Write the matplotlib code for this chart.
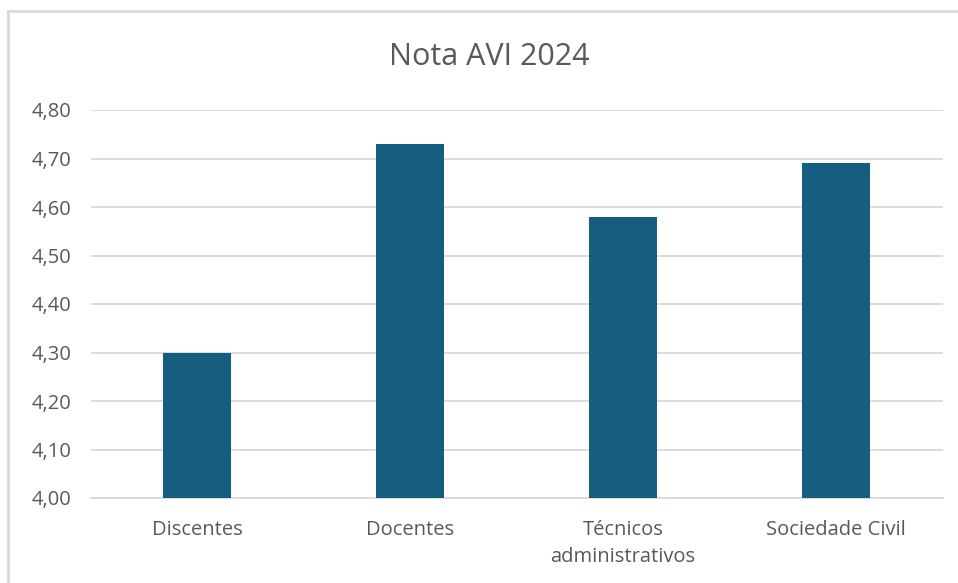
import matplotlib.pyplot as plt
from matplotlib.lines import Line2D
from matplotlib.ticker import FuncFormatter

categories = ["Discentes", "Docentes", "Técnicos\nadministrativos", "Sociedade Civil"]
values = [4.30, 4.73, 4.58, 4.69]
y_ticks = [4.0, 4.1, 4.2, 4.3, 4.4, 4.5, 4.6, 4.7, 4.8]

plt.rcParams['font.family'] = ['Open Sans', 'DejaVu Sans']

W, H = 958, 583
fig = plt.figure(figsize=(W / 100, H / 100), dpi=100)
ax = fig.add_axes([90.5 / W, 1 - 498 / H, (942.5 - 90.5) / W, (498 - 110) / H])

x = range(len(categories))
ax.bar(x, values, width=0.315, color="#165e80", zorder=3)

ax.set_xlim(-0.5, len(categories) - 0.5)
ax.set_ylim(4.0, 4.8)
ax.set_yticks(y_ticks)
ax.yaxis.set_major_formatter(FuncFormatter(lambda v, p: f"{v:.2f}".replace(".", ",")))
ax.set_xticks(list(x))
ax.set_xticklabels(categories, linespacing=1.45)

ax.grid(axis="y", color="#d9d9d9", linewidth=1.3, zorder=0)
for s in ["top", "right", "left"]:
    ax.spines[s].set_visible(False)
ax.spines["bottom"].set_color("#d9d9d9")
ax.spines["bottom"].set_linewidth(1.3)
ax.tick_params(axis="both", length=0, labelsize=14.5, colors="#595959")
ax.tick_params(axis="y", pad=14)
ax.tick_params(axis="x", pad=16)

fig.text(489.5 / W, 1 - 57 / H, "Nota AVI 2024", ha="center", va="center",
         fontsize=22, color="#595959")

# chart border (top and left edges visible)
fig.add_artist(Line2D([7.5 / W, 1], [1 - 11 / H, 1 - 11 / H], color="#d9d9d9", linewidth=2))
fig.add_artist(Line2D([7.5 / W, 7.5 / W], [0, 1 - 11 / H], color="#d9d9d9", linewidth=2))

fig.savefig("out.png", dpi=100)
